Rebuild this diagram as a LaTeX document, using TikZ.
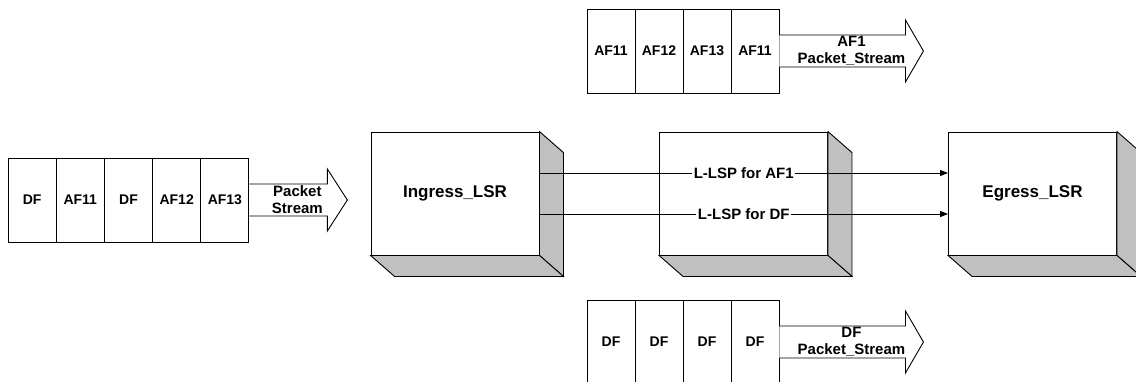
\documentclass[tikz,border=0pt]{standalone}
\usepackage{fontspec}
\setmainfont{Liberation Sans}
\usetikzlibrary{arrows.meta,calc}
\definecolor{facegray}{HTML}{C0C0C0}
\tikzset{
  cell/.style={draw, fill=white, minimum width=48pt, minimum height=84pt,
    inner sep=0pt, font=\fontsize{14}{16}\selectfont\bfseries},
  lsrbox/.style={draw, fill=white, minimum width=168pt, minimum height=123pt,
    inner sep=0pt, font=\fontsize{17}{20}\selectfont\bfseries},
  streamlabel/.style={align=center, inner sep=0pt,
    font=\fontsize{15}{17}\selectfont\bfseries},
  lsplabel/.style={fill=white, inner sep=1.5pt,
    font=\fontsize{15}{18}\selectfont\bfseries},
  lsp/.style={-{Triangle[length=8pt,width=6pt]}},
}
\begin{document}
\begin{tikzpicture}[x=1pt, y=-1pt, line width=0.9pt]
    \useasboundingbox (0,0) rectangle (1136,381);
    \clip (0,0) rectangle (1136,381);
    % flusso di ingresso
    \foreach \t [count=\i] in {DF,AF11,DF,AF12,AF13}
      \node[cell] (in\i) at ({8+48.2*\i-24.1}, 200) {\t};
    \filldraw[fill=white] (in5.east) ++(0,-16) -- ++(78,0) -- ++(0,-15)
      -- ++(20,31) -- ++(-20,31) -- ++(0,-15) -- ++(-78,0);
    \node[streamlabel] (inlabel) at ($(in5.east)+(48,0)$) {Packet\\Stream};
    % flusso AF1
    \foreach \t [count=\i] in {AF11,AF12,AF13,AF11}
      \node[cell] (af\i) at ({587+48*\i-24}, 51) {\t};
    \filldraw[fill=white] (af4.east) ++(0,-16) -- ++(126,0) -- ++(0,-15)
      -- ++(18,31) -- ++(-18,31) -- ++(0,-15) -- ++(-126,0);
    \node[streamlabel] (aflabel) at ($(af4.east)+(72,0)$) {AF1\\Packet\_Stream};
    % flusso DF
    \foreach \t [count=\i] in {DF,DF,DF,DF}
      \node[cell] (df\i) at ({587+48*\i-24}, 342) {\t};
    \filldraw[fill=white] (df4.east) ++(0,-16) -- ++(126,0) -- ++(0,-15)
      -- ++(18,31) -- ++(-18,31) -- ++(0,-15) -- ++(-126,0);
    \node[streamlabel] (dflabel) at ($(df4.east)+(72,0)$) {DF\\Packet\_Stream};
    % router
    \node[lsrbox] (ingress) at (455,193.5) {Ingress\_LSR};
    \node[lsrbox] (transit) at (743.5,193.5) {};
    \node[lsrbox] (egress) at (1032.5,193.5) {Egress\_LSR};
    \foreach \b in {ingress,transit,egress}{
      \filldraw[fill=facegray] (\b.north east) -- ++(24,21)
        -- ($(\b.south east)+(24,21)$) -- (\b.south east) -- cycle;
      \filldraw[fill=facegray] (\b.south west) -- (\b.south east)
        -- ++(24,21) -- ($(\b.south west)+(24,21)$) -- cycle;
    }
    % L-LSP
    \draw[lsp] ([yshift=20.5pt]ingress.east) -- node[lsplabel] {L-LSP for AF1}
      ([yshift=20.5pt]egress.west);
    \draw[lsp] ([yshift=-20.5pt]ingress.east) -- node[lsplabel] {L-LSP for DF}
      ([yshift=-20.5pt]egress.west);
\end{tikzpicture}
\end{document}
